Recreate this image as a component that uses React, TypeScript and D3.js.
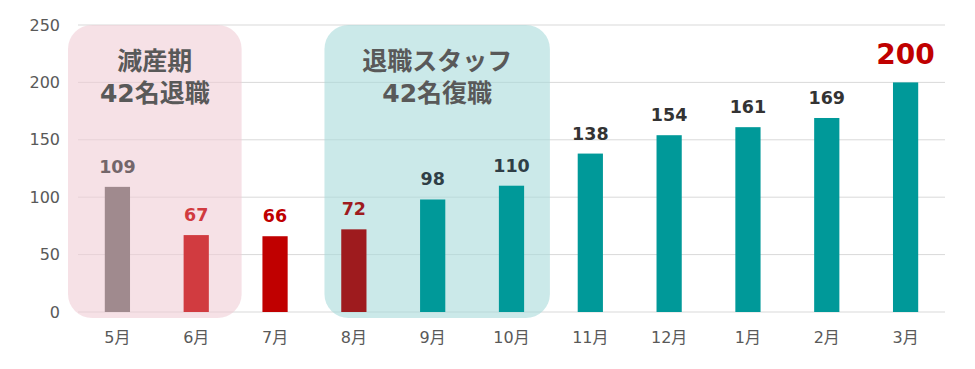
import { useEffect, useRef } from 'react';
import * as d3 from 'd3';

const months = ['5月', '6月', '7月', '8月', '9月', '10月', '11月', '12月', '1月', '2月', '3月'];
const staff = [109, 67, 66, 72, 98, 110, 138, 154, 161, 169, 200];
const barColors = ['#a08a8e', '#d13b40', '#c00000', '#9e1b1e', '#009999', '#009999', '#009999', '#009999', '#009999', '#009999', '#009999'];
const labelColors = ['#73666a', '#d13b40', '#c00000', '#9e1b1e', '#2f3e46', '#2f3e46', '#333333', '#333333', '#333333', '#333333', '#c00000'];
const yTicks = [0, 50, 100, 150, 200, 250];

const periods = [
  { from: '5月', to: '6月', lines: ['減産期', '42名退職'], fill: '#f0cdd5', padLeft: 10, padRight: 6 },
  { from: '8月', to: '10月', lines: ['退職スタッフ', '42名復職'], fill: '#a9dbdb', padLeft: -10, padRight: -1 },
];

const FONT = "'DejaVu Sans', 'Noto Sans CJK JP', sans-serif";

export default function App() {
  const ref = useRef<SVGSVGElement>(null);

  useEffect(() => {
    const width = 975;
    const height = 369;
    const margin = { top: 25, right: 30, bottom: 57, left: 78 };
    const innerWidth = width - margin.left - margin.right;
    const innerHeight = height - margin.top - margin.bottom;

    const svg = d3.select(ref.current);
    svg.selectAll('*').remove();
    const root = svg.append('g').attr('transform', `translate(${margin.left},${margin.top})`);

    const x = d3.scaleBand().domain(months).range([0, innerWidth]).paddingInner(0.68).paddingOuter(0.34);
    const band = d3.scaleBand().domain(months).range([0, innerWidth]);
    const y = d3.scaleLinear().domain([0, 250]).range([innerHeight, 0]);

    // grid
    root
      .selectAll('.grid')
      .data(yTicks)
      .join('line')
      .attr('x1', 0)
      .attr('x2', innerWidth)
      .attr('y1', (d) => y(d))
      .attr('y2', (d) => y(d))
      .attr('stroke', '#d9d9d9')
      .attr('stroke-width', 1);

    // highlighted periods
    const boxes = root.selectAll('.period').data(periods).join('g');
    boxes
      .append('rect')
      .attr('x', (p) => (band(p.from) ?? 0) - p.padLeft)
      .attr('y', y(250))
      .attr('width', (p) => (band(p.to) ?? 0) + band.bandwidth() + p.padRight - ((band(p.from) ?? 0) - p.padLeft))
      .attr('height', innerHeight + 6)
      .attr('rx', 24)
      .attr('fill', (p) => p.fill)
      .attr('opacity', 0.6);
    boxes.each(function (p) {
      const cx = ((band(p.from) ?? 0) - p.padLeft + (band(p.to) ?? 0) + band.bandwidth() + p.padRight) / 2;
      d3.select(this)
        .selectAll('text')
        .data(p.lines)
        .join('text')
        .attr('x', cx)
        .attr('y', (_, i) => 45 + i * 32)
        .attr('text-anchor', 'middle')
        .attr('font-family', FONT)
        .attr('font-size', 25)
        .attr('font-weight', 700)
        .attr('fill', '#595959')
        .text((d) => d);
    });

    // y axis
    root
      .append('g')
      .call(d3.axisLeft(y).tickValues(yTicks).tickSize(0).tickPadding(18))
      .call((axis) => axis.select('.domain').remove())
      .call((axis) =>
        axis.selectAll('text').attr('font-family', FONT).attr('font-size', 16).attr('fill', '#595959'),
      );

    // x axis
    root
      .append('g')
      .attr('transform', `translate(0,${innerHeight})`)
      .call(d3.axisBottom(band).tickSize(0).tickPadding(20))
      .call((axis) => axis.select('.domain').remove())
      .call((axis) =>
        axis.selectAll('text').attr('font-family', FONT).attr('font-size', 16).attr('fill', '#595959'),
      );

    // bars
    root
      .selectAll('.bar')
      .data(staff)
      .join('rect')
      .attr('class', 'bar')
      .attr('x', (_, i) => x(months[i]) ?? 0)
      .attr('y', (d) => y(d))
      .attr('width', x.bandwidth())
      .attr('height', (d) => innerHeight - y(d))
      .attr('fill', (_, i) => barColors[i]);

    // value labels
    root
      .selectAll('.bar-label')
      .data(staff)
      .join('text')
      .attr('class', 'bar-label')
      .attr('x', (_, i) => (x(months[i]) ?? 0) + x.bandwidth() / 2)
      .attr('y', (d, i) => y(d) - (i === staff.length - 1 ? 18 : 14))
      .attr('text-anchor', 'middle')
      .attr('font-family', FONT)
      .attr('font-weight', 700)
      .attr('font-size', (_, i) => (i === staff.length - 1 ? 28 : 17.5))
      .attr('fill', (_, i) => labelColors[i])
      .text((d) => d);
  }, []);

  return <svg ref={ref} width={975} height={369} style={{ position: 'absolute', left: 0, top: 0 }} />;
}
